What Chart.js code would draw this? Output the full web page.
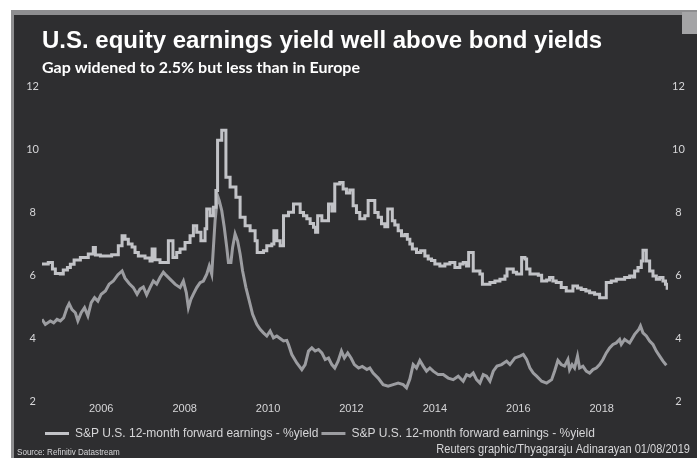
<!DOCTYPE html>
<html>
<head>
<meta charset="utf-8">
<script src="https://cdn.jsdelivr.net/npm/chart.js@4/dist/chart.umd.min.js"></script>
<style>
html,body{margin:0;padding:0;background:#fff;}
#wrap{width:697px;height:458px;position:relative;}
</style>
</head>
<body>
<div id="wrap"><canvas id="c" width="697" height="458"></canvas></div>
<script>
// ---- Data (decimal year, % yield) ----
const earnDates = [2004.58,2004.73,2004.83,2004.90,2005.02,2005.09,2005.19,2005.26,2005.35,2005.50,2005.69,2005.81,2005.86,2005.98,2006.25,2006.41,2006.50,2006.57,2006.65,2006.74,2006.81,2006.89,2007.05,2007.17,2007.22,2007.29,2007.41,2007.61,2007.72,2007.81,2007.89,2008.01,2008.13,2008.21,2008.29,2008.39,2008.49,2008.53,2008.61,2008.69,2008.75,2008.79,2008.89,2008.99,2009.09,2009.23,2009.33,2009.45,2009.57,2009.69,2009.74,2009.89,2009.97,2010.09,2010.14,2010.21,2010.29,2010.37,2010.49,2010.61,2010.77,2010.85,2010.93,2011.01,2011.09,2011.14,2011.19,2011.29,2011.45,2011.53,2011.60,2011.72,2011.80,2011.88,2011.96,2012.04,2012.12,2012.20,2012.32,2012.40,2012.56,2012.64,2012.72,2012.80,2012.87,2012.98,2013.04,2013.12,2013.20,2013.28,2013.34,2013.40,2013.46,2013.56,2013.66,2013.76,2013.84,2013.92,2014.00,2014.12,2014.24,2014.36,2014.48,2014.60,2014.68,2014.76,2014.81,2014.92,2015.08,2015.14,2015.32,2015.44,2015.56,2015.68,2015.73,2015.88,2015.96,2016.08,2016.16,2016.20,2016.28,2016.40,2016.48,2016.56,2016.68,2016.75,2016.83,2016.91,2017.03,2017.15,2017.31,2017.42,2017.51,2017.62,2017.71,2017.83,2017.95,2018.11,2018.23,2018.35,2018.48,2018.55,2018.67,2018.75,2018.79,2018.87,2018.95,2018.99,2019.07,2019.15,2019.23,2019.31,2019.39,2019.47,2019.53,2019.57,2019.59];
const earnYield = [6.36,6.41,6.20,6.06,6.04,6.17,6.25,6.35,6.49,6.57,6.68,6.89,6.65,6.62,6.66,6.94,7.26,7.15,7.00,6.90,6.73,6.62,6.55,6.46,6.84,6.50,6.41,7.10,6.57,6.73,6.84,7.05,7.26,7.58,7.37,7.10,7.48,8.11,7.90,8.17,8.70,10.30,10.62,9.12,8.81,8.49,7.85,7.58,7.42,7.10,6.73,6.78,6.94,7.00,7.42,7.10,6.94,7.90,8.01,8.27,8.00,7.90,7.80,7.65,7.53,7.37,7.90,7.74,8.27,8.05,8.91,8.96,8.75,8.62,8.72,8.22,8.00,7.80,7.90,8.38,8.00,7.85,7.64,7.55,8.11,7.74,7.60,7.42,7.26,7.30,7.15,7.00,6.84,6.73,6.78,6.62,6.52,6.47,6.36,6.30,6.36,6.41,6.25,6.36,6.41,6.30,6.73,6.14,6.04,5.72,5.77,5.82,5.88,5.98,6.20,6.10,6.04,6.57,6.52,6.20,6.04,6.04,6.00,5.82,5.85,5.93,5.82,5.77,5.61,5.50,5.66,5.60,5.55,5.50,5.45,5.40,5.29,5.77,5.82,5.88,5.88,5.93,5.98,5.95,6.14,6.25,6.46,6.80,6.46,6.14,5.98,5.88,5.93,5.82,5.72,5.59,5.59];

const bondDates = [2004.58,2004.66,2004.78,2004.86,2004.94,2005.02,2005.10,2005.18,2005.23,2005.30,2005.38,2005.44,2005.52,2005.60,2005.68,2005.76,2005.84,2005.92,2006.00,2006.10,2006.19,2006.29,2006.40,2006.50,2006.57,2006.67,2006.77,2006.86,2006.93,2007.01,2007.09,2007.17,2007.25,2007.33,2007.41,2007.49,2007.53,2007.65,2007.77,2007.89,2007.97,2008.04,2008.09,2008.15,2008.21,2008.29,2008.37,2008.45,2008.53,2008.59,2008.65,2008.69,2008.73,2008.79,2008.83,2008.89,2008.95,2009.01,2009.05,2009.11,2009.15,2009.21,2009.27,2009.33,2009.39,2009.47,2009.55,2009.63,2009.73,2009.81,2009.89,2009.97,2010.05,2010.13,2010.21,2010.29,2010.37,2010.45,2010.49,2010.57,2010.69,2010.81,2010.89,2010.97,2011.05,2011.13,2011.21,2011.29,2011.37,2011.45,2011.53,2011.60,2011.68,2011.76,2011.83,2011.91,2011.99,2012.07,2012.17,2012.26,2012.37,2012.44,2012.52,2012.64,2012.76,2012.88,2013.00,2013.12,2013.24,2013.32,2013.40,2013.48,2013.56,2013.64,2013.72,2013.80,2013.88,2013.96,2014.08,2014.20,2014.32,2014.44,2014.56,2014.68,2014.76,2014.84,2014.92,2015.00,2015.08,2015.16,2015.24,2015.32,2015.40,2015.49,2015.60,2015.72,2015.80,2015.92,2016.04,2016.12,2016.20,2016.28,2016.36,2016.44,2016.56,2016.68,2016.80,2016.87,2016.95,2017.03,2017.11,2017.19,2017.23,2017.29,2017.35,2017.42,2017.47,2017.55,2017.63,2017.71,2017.79,2017.87,2017.95,2018.03,2018.11,2018.19,2018.27,2018.35,2018.43,2018.47,2018.55,2018.67,2018.79,2018.89,2018.93,2018.99,2019.07,2019.15,2019.23,2019.31,2019.39,2019.47,2019.55];
const bondYield = [4.60,4.44,4.55,4.49,4.60,4.55,4.65,4.97,5.10,4.91,4.81,4.55,4.81,4.97,4.71,5.13,5.29,5.18,5.40,5.50,5.72,5.82,6.02,6.14,5.91,5.74,5.61,5.40,5.56,5.63,5.38,5.61,5.82,5.72,5.93,6.10,6.04,5.88,5.72,5.61,5.82,5.45,4.97,5.24,5.40,5.61,5.77,5.82,6.04,6.30,6.04,6.89,7.74,8.54,8.38,8.06,7.53,6.89,6.41,6.41,6.89,7.32,7.10,6.68,6.14,5.61,5.19,4.76,4.44,4.28,4.17,4.07,4.23,4.01,4.07,3.99,3.91,3.93,3.80,3.48,3.21,3.00,3.16,3.59,3.69,3.59,3.64,3.53,3.32,3.37,3.16,3.05,3.27,3.59,3.37,3.53,3.37,3.16,3.05,3.10,3.00,3.05,2.89,2.73,2.52,2.47,2.52,2.57,2.52,2.42,2.70,3.16,3.05,3.29,3.11,2.95,3.05,2.95,2.84,2.84,2.73,2.68,2.79,2.63,2.84,2.79,2.89,2.68,2.57,2.84,2.79,2.63,2.95,3.11,3.16,3.27,3.16,3.37,3.43,3.48,3.32,3.05,2.89,2.79,2.63,2.57,2.68,2.95,3.29,3.16,3.11,3.32,3.00,3.16,3.05,3.43,3.05,3.11,2.95,2.89,3.00,3.05,3.16,3.32,3.53,3.69,3.80,3.85,3.96,3.80,3.96,3.85,4.12,4.28,4.39,4.17,4.07,3.91,3.80,3.59,3.43,3.27,3.14];

const yearTicks = [2006, 2008, 2010, 2012, 2014, 2016, 2018];
const yTicks = [2, 4, 6, 8, 10, 12];
const seriesNames = ['S&P U.S. 12-month forward earnings - %yield', 'S&P U.S. 12-month forward earnings - %yield'];
const titleText = 'U.S. equity earnings yield well above bond yields';
const subtitleText = 'Gap widened to 2.5% but less than in Europe';
const sourceText = 'Source: Refinitiv Datastream';
const creditText = 'Reuters graphic/Thyagaraju Adinarayan 01/08/2019';

const BG = '#2e2e30';
const TXT = '#d6d6d8';
const SANS = '"Liberation Sans", Arial, sans-serif';

const bgPlugin = {
  id: 'bg',
  beforeDraw(chart) {
    const ctx = chart.ctx;
    ctx.save();
    ctx.fillStyle = '#ffffff';
    ctx.fillRect(0, 0, 697, 458);
    ctx.fillStyle = '#8e8e90';
    ctx.fillRect(11, 10, 686, 448);
    ctx.fillStyle = BG;
    ctx.fillRect(14, 15, 683, 443);
    ctx.fillStyle = '#a4a4a6';
    ctx.fillRect(682, 12, 15, 22);
    ctx.restore();
  },
  afterDraw(chart) {
    const ctx = chart.ctx;
    ctx.save();
    ctx.fillStyle = TXT;
    ctx.textBaseline = 'middle';
    ctx.textAlign = 'left';
    ctx.translate(17, 452);
    ctx.scale(0.85, 1);
    ctx.font = '9.5px ' + SANS;
    ctx.fillText(sourceText, 0, 0);
    ctx.restore();
    ctx.save();
    ctx.fillStyle = TXT;
    ctx.textBaseline = 'middle';
    ctx.textAlign = 'right';
    ctx.translate(690, 449);
    ctx.scale(0.85, 1);
    ctx.font = '13px ' + SANS;
    ctx.fillText(creditText, 0, 0);
    ctx.restore();
  }
};

const ctx = document.getElementById('c').getContext('2d');
new Chart(ctx, {
  type: 'line',
  data: {
    datasets: [
      {
        label: seriesNames[0],
        data: earnDates.map((d, i) => ({x: d, y: earnYield[i]})),
        borderColor: '#c2c3c7',
        backgroundColor: '#c2c3c7',
        borderWidth: 3,
        pointRadius: 0,
        stepped: true,
        yAxisID: 'y'
      },
      {
        label: seriesNames[1],
        data: bondDates.map((d, i) => ({x: d, y: bondYield[i]})),
        borderColor: '#9c9da1',
        backgroundColor: '#9c9da1',
        borderWidth: 3,
        pointRadius: 0,
        tension: 0,
        yAxisID: 'y'
      }
    ]
  },
  options: {
    responsive: false,
    animation: false,
    devicePixelRatio: 1,
    layout: { padding: { left: 13, right: 0, top: 0, bottom: 8.5 } },
    plugins: {
      title: {
        display: true,
        text: titleText,
        align: 'start',
        fullSize: false,
        color: '#ffffff',
        font: { family: SANS, size: 24, weight: 'bold', lineHeight: 1.2 },
        padding: { top: 26.5, bottom: 0 }
      },
      subtitle: {
        display: true,
        text: subtitleText,
        align: 'start',
        fullSize: false,
        color: '#ffffff',
        font: { family: 'Lato, sans-serif', size: 16, weight: 'bold', lineHeight: 1.2 },
        padding: { top: 2.6, bottom: 9.8 }
      },
      legend: {
        display: true,
        position: 'bottom',
        align: 'start',
        fullSize: false,
        labels: {
          color: TXT,
          font: { family: SANS, size: 12 },
          usePointStyle: true,
          pointStyle: 'line',
          pointStyleWidth: 24,
          padding: 3
        }
      },
      tooltip: { enabled: false }
    },
    scales: {
      x: {
        type: 'linear',
        min: 2004.58,
        max: 2019.59,
        grid: { display: false, drawTicks: false },
        border: { display: false },
        afterBuildTicks(scale) { scale.ticks = yearTicks.map(v => ({ value: v })); },
        afterFit(scale) { scale.height = 23.5; },
        ticks: {
          autoSkip: false,
          maxRotation: 0,
          padding: 1.5,
          color: TXT,
          font: { family: SANS, size: 11 },
          callback: v => String(v)
        }
      },
      y: {
        position: 'left',
        min: 2, max: 12,
        grid: { display: false, drawTicks: false },
        border: { display: false },
        afterBuildTicks(scale) { scale.ticks = yTicks.map(v => ({ value: v })); },
        afterFit(scale) { scale.width = 29; },
        ticks: {
          crossAlign: 'center',
          padding: 3,
          color: TXT,
          font: { family: 'Lato, sans-serif', size: 11 },
          callback: v => String(v)
        }
      },
      y2: {
        position: 'right',
        min: 2, max: 12,
        display: true,
        grid: { display: false, drawTicks: false },
        border: { display: false },
        afterBuildTicks(scale) { scale.ticks = yTicks.map(v => ({ value: v })); },
        afterFit(scale) { scale.width = 29; },
        ticks: {
          crossAlign: 'center',
          padding: 4,
          color: TXT,
          font: { family: 'Lato, sans-serif', size: 11 },
          callback: v => String(v)
        }
      }
    }
  },
  plugins: [bgPlugin]
});
</script>
</body>
</html>
